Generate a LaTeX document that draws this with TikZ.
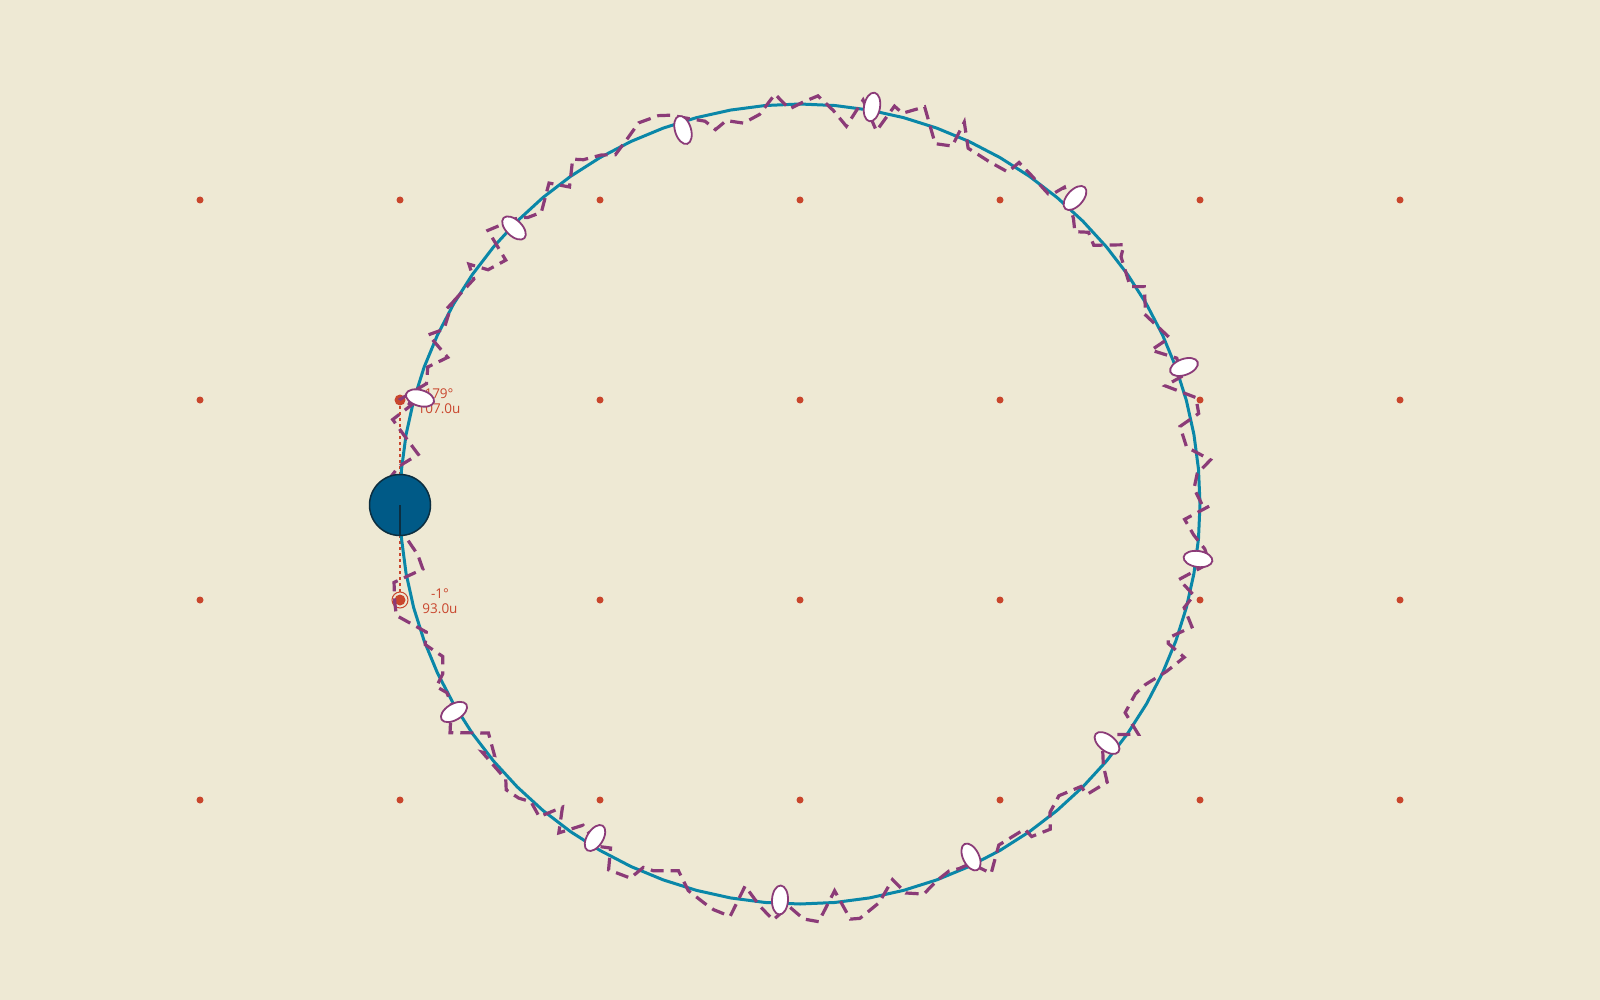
\documentclass[tikz,border=0pt]{standalone}
\usepackage{fontspec}
\newfontfamily\readfont{Open Sans}
\usetikzlibrary{shapes.geometric}

\definecolor{paper}{HTML}{EEE9D4}
\definecolor{rust}{HTML}{C9462D}
\definecolor{lagoon}{HTML}{0A87A8}
\definecolor{plum}{HTML}{8B3B78}
\definecolor{deepblue}{HTML}{005A87}
\definecolor{ink}{HTML}{0C2E40}

\begin{document}
\begin{tikzpicture}[
  x=1pt, y=-1pt,
  griddot/.style={circle, fill=rust, inner sep=0pt, minimum size=7pt},
  target/.style={circle, fill=rust, inner sep=0pt, minimum size=11pt},
  ring/.style={circle, draw=rust, line width=1pt, inner sep=0pt, minimum size=16pt},
  aim/.style={draw=rust, line width=1.6pt, dash pattern=on 3pt off 3pt},
  readout/.style={font=\readfont\fontsize{13.5}{15.5}\selectfont, text=rust,
                  align=center, inner sep=0pt},
  orbit/.style={draw=lagoon, line width=3pt, line join=round},
  trail/.style={draw=plum, line width=3.2pt, dash pattern=on 13pt off 7pt},
  bead/.style={ellipse, draw=plum, fill=white, line width=1.8pt, inner sep=0pt,
               minimum width=29pt, minimum height=16pt},
  ball/.style={circle, fill=deepblue, draw=ink, line width=1.5pt, inner sep=0pt,
               minimum size=61pt}
]
\useasboundingbox[fill=paper] (0,0) rectangle (1600,1000);

% ---------------- grid of dots ----------------
\foreach \i in {1,...,7}
  \foreach \j in {1,...,4}
    \node[griddot] (g\i\j) at (200*\i, 200*\j) {};

% ---------------- targets and readouts ----------------
\coordinate (hub) at (400,505);
\node[target] (tgtA) at (400,400) {};
\node[target] (tgtB) at (400,600) {};
\node[ring] (ringB) at (tgtB) {};
\draw[aim] (hub) -- (tgtA);
\draw[aim] (hub) -- (tgtB);
\node[readout] (readA) at (439,401) {179°\\107.0u};
\node[readout] (readB) at (440,601) {-1°\\93.0u};

% ---------------- orbit and wandering trail ----------------
\draw[orbit] plot[samples=73, domain=0:360, variable=\t]
  ({800+400*cos(\t)}, {504-400*sin(\t)}) -- cycle;

\pgfmathsetseed{42}
\draw[trail] plot[samples=170, domain=0:360, variable=\t]
  ({800+(400+20*rand)*cos(\t)}, {504-(400+20*rand)*sin(\t)});

% ---------------- beads along the orbit ----------------
\foreach \n/\px/\py/\a in {1/420/398/164, 2/514/228/136, 3/683/130/107,
    4/872/107/80, 5/1075/198/48, 6/1184/367/20, 7/1198/559/-8,
    8/1107/743/-38, 9/971/857/-64, 10/780/900/-93, 11/595/838/-122,
    12/454/712/-149}
  \node[bead, rotate=\a] (b\n) at (\px,\py) {};

% ---------------- the ball ----------------
\node[ball] (ball) at (hub) {};
\draw[ink, line width=1.5pt] (ball.center) -- (ball.south);

\end{tikzpicture}
\end{document}
